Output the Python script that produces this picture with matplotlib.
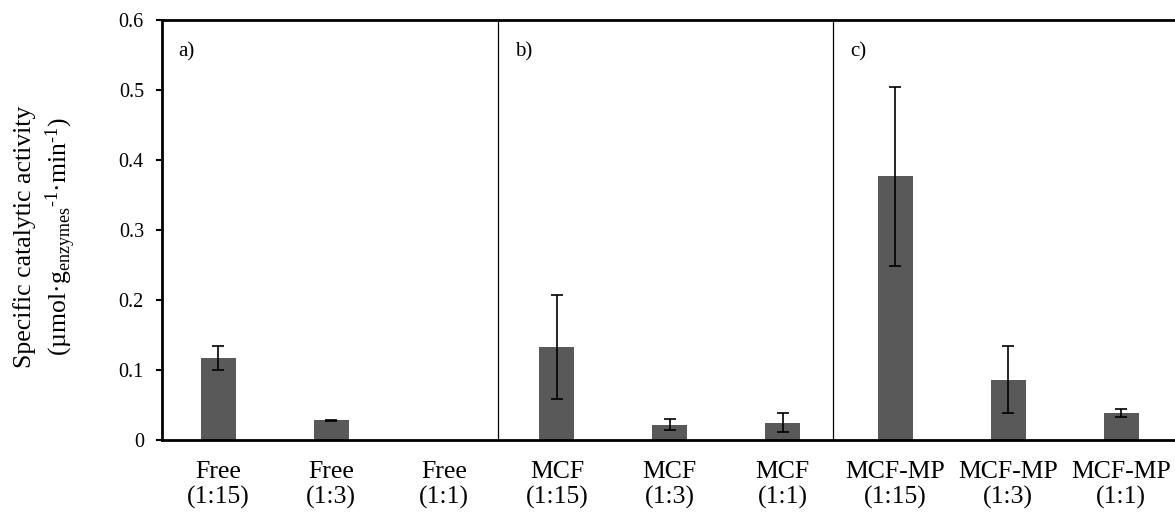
import numpy as np
import matplotlib
matplotlib.use('Agg')
import matplotlib.pyplot as plt

# data
groups = ['Free', 'Free', 'Free', 'MCF', 'MCF', 'MCF', 'MCF-MP', 'MCF-MP', 'MCF-MP']
ratios = ['(1:15)', '(1:3)', '(1:1)'] * 3
activity = [0.117, 0.028, 0.0, 0.133, 0.022, 0.025, 0.377, 0.086, 0.039]
errors = [0.017, 0.001, 0.0, 0.074, 0.008, 0.014, 0.128, 0.048, 0.006]
panels = ['a)', 'b)', 'c)']

plt.rcParams['font.family'] = 'Liberation Serif'
plt.rcParams['mathtext.fontset'] = 'custom'
plt.rcParams['mathtext.rm'] = 'Liberation Serif'
plt.rcParams['mathtext.it'] = 'Liberation Serif:italic'

fig = plt.figure(figsize=(11.75, 5.15), dpi=100)
ax = fig.add_axes([162 / 1175, 75 / 515, 1015.5 / 1175, 420 / 515])

x = np.arange(len(activity))
ax.bar(x, activity, width=0.31, color='#595959', zorder=2)
# no error bar where there was no activity
has_err = [e > 0 for e in errors]
ax.errorbar(x[has_err], np.array(activity)[has_err], yerr=np.array(errors)[has_err],
            fmt='none', ecolor='black', elinewidth=1.2, capsize=4.5, capthick=1.2,
            zorder=3)

# panel separators
for xd in [2.476, 5.445]:
    ax.plot([xd, xd], [0, 0.6], color='black', lw=0.9, zorder=1)

for xt, lab in zip([-0.36, 2.63, 5.6], panels):
    ax.text(xt, 0.555, lab, fontsize=15, va='center', ha='left')

ax.set_xlim(-0.5, 8.5)
ax.set_ylim(0, 0.6)
ax.set_yticks(np.arange(0, 0.61, 0.1))
ax.set_yticklabels(['0', '0.1', '0.2', '0.3', '0.4', '0.5', '0.6'], fontsize=14.5)
ax.set_xticks(x)
ax.set_xticklabels([g + '\n' + r for g, r in zip(groups, ratios)], fontsize=18.5,
                   linespacing=1.2)
ax.tick_params(axis='x', length=0, pad=15)
ax.tick_params(axis='y', length=4, width=1.5, pad=9)

for s in ['left', 'bottom', 'top']:
    ax.spines[s].set_linewidth(2)
ax.spines['right'].set_visible(False)

ax.set_ylabel('Specific catalytic activity\n'
              r'(µmol·g$_{\mathrm{enzymes}}$$^{\text{-1}}$·min$^{\text{-1}}$)',
              fontsize=18.5, linespacing=1.3)
ax.yaxis.set_label_coords(-0.083, 0.4845)

fig.savefig('out.png', dpi=100)
